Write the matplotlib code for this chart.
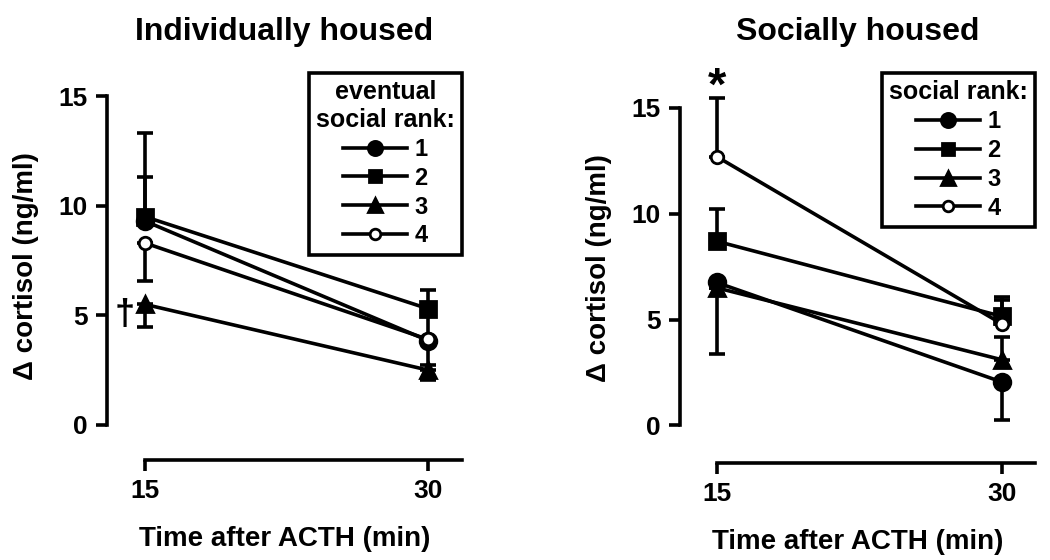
import matplotlib
matplotlib.use("Agg")
import matplotlib.pyplot as plt

plt.rcParams['font.family'] = ['Liberation Sans', 'DejaVu Sans']
plt.rcParams['font.weight'] = 'bold'
plt.rcParams['axes.titleweight'] = 'bold'
plt.rcParams['axes.labelweight'] = 'bold'

# time after ACTH (min)
times = [15, 30]
ranks = ['1', '2', '3', '4']
markers = ['o', 's', '^', 'o']
filled = [True, True, True, False]

# Individually housed: means and one-sided error bars (lower, upper)
ind_means = [[9.3, 3.85], [9.5, 5.3], [5.5, 2.5], [8.3, 3.9]]
ind_err_lo = [[0, 1.1], [0, 0], [1.05, 0.45], [1.75, 0]]
ind_err_hi = [[2.0, 1.25], [3.8, 0.85], [0, 0], [0, 0]]

# Socially housed
soc_means = [[6.75, 2.05], [8.7, 5.15], [6.5, 3.1], [12.7, 4.8]]
soc_err_lo = [[3.38, 1.78], [0, 0], [0, 0], [0, 0]]
soc_err_hi = [[0, 0], [1.5, 0.92], [0, 1.06], [2.75, 1.1]]

LW = 2.6
W, H = 1050, 560
fig = plt.figure(figsize=(W / 100, H / 100), dpi=100)


def panel(rect, xlim, ylim, means, lo, hi, title, legend_title):
    ax = fig.add_axes(rect)
    for i in range(4):
        ax.errorbar(times, means[i], yerr=[lo[i], hi[i]], fmt='none',
                    ecolor='black', elinewidth=LW, capsize=6, capthick=LW, zorder=2)
    for i in range(4):
        ms = 11 if markers[i] == 's' else 12
        if not filled[i]:
            ms = 9
        ax.plot(times, means[i], color='black', lw=LW, marker=markers[i],
                markersize=ms, markerfacecolor='black' if filled[i] else 'white',
                markeredgewidth=2, label=ranks[i], zorder=3)
    ax.set_xlim(*xlim)
    ax.set_ylim(*ylim)
    ax.spines['top'].set_visible(False)
    ax.spines['right'].set_visible(False)
    ax.spines['left'].set_bounds(0, 15)
    ax.spines['bottom'].set_bounds(15, xlim[1])
    ax.spines['left'].set_linewidth(LW)
    ax.spines['bottom'].set_linewidth(LW)
    ax.set_xticks(times)
    ax.set_yticks([0, 5, 10, 15])
    ax.tick_params(width=LW, length=8, labelsize=19, pad=6)
    ax.set_xlabel('Time after ACTH (min)', fontsize=20, labelpad=16)
    ax.set_ylabel('Δ cortisol (ng/ml)', fontsize=20, labelpad=14)
    ax.set_title(title, fontsize=23, pad=24)
    leg = ax.legend(title=legend_title, loc='upper right', fontsize=17,
                    title_fontproperties={'weight': 'bold', 'size': 18},
                    fancybox=False, edgecolor='black', framealpha=1,
                    handlelength=2.7, handletextpad=0.3, borderpad=0.3,
                    labelspacing=0.25, markerscale=0.85, borderaxespad=0,
                    bbox_to_anchor=(1.0, 1.0))
    leg.get_frame().set_linewidth(LW)
    leg._legend_box.align = 'center'
    leg.get_title().set_multialignment('center')
    return ax


ax1 = panel([107 / W, 1 - 460 / H, 355 / W, 387 / H], (13, 31.8), (-1.6, 16.05),
            ind_means, ind_err_lo, ind_err_hi, 'Individually housed',
            'eventual\nsocial rank:')
ax1.text(13.95, 5.0, '†', fontsize=26, ha='center', va='center')

ax2 = panel([680 / W, 1 - 463 / H, 355 / W, 390 / H], (13.07, 31.75), (-1.78, 16.65),
            soc_means, soc_err_lo, soc_err_hi, 'Socially housed', 'social rank:')
ax2.text(15, 15.95, '*', fontsize=34, ha='center', va='center')

fig.savefig('out.png', dpi=100)
